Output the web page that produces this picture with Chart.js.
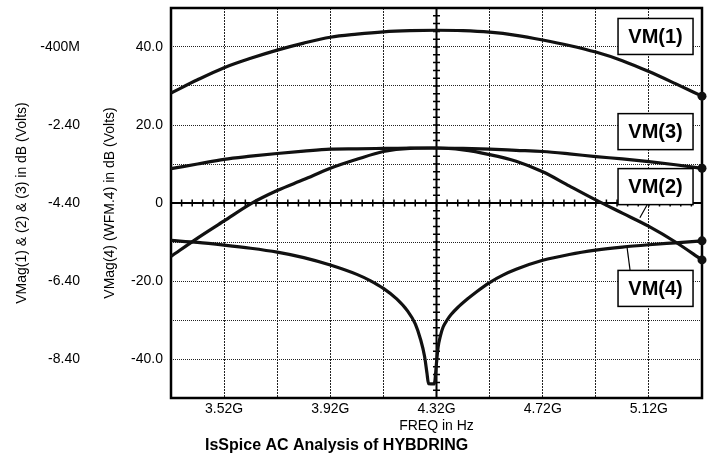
<!DOCTYPE html>
<html>
<head>
<meta charset="utf-8">
<script src="https://cdn.jsdelivr.net/npm/chart.js@4"></script>
<style>
    body { margin: 0; background: #fff; }
    #wrap { width: 707px; height: 459px; }
</style>
</head>
<body>
<div id="wrap"><canvas id="hybChart" width="707" height="459"></canvas></div>
<script>
// frequency points in GHz for VM(1), VM(2), VM(3)
const freqGHz = [3.32, 3.42, 3.52, 3.62, 3.72, 3.82, 3.92, 4.02, 4.12, 4.22, 4.32,
                 4.42, 4.52, 4.62, 4.72, 4.82, 4.92, 5.02, 5.12, 5.22, 5.32];
// magnitudes in dB, read on the outer left scale
const vm1 = [-1.58, -1.24, -0.93, -0.69, -0.48, -0.30, -0.15, -0.07, -0.01, 0.02, 0.03,
             0.02, -0.02, -0.10, -0.22, -0.36, -0.53, -0.75, -1.03, -1.34, -1.66];
const vm2 = [-5.77, -5.30, -4.86, -4.42, -4.08, -3.80, -3.51, -3.28, -3.08, -3.00, -2.99,
             -3.04, -3.16, -3.33, -3.60, -3.96, -4.32, -4.66, -5.00, -5.40, -5.86];
const vm3 = [-3.52, -3.40, -3.28, -3.20, -3.13, -3.07, -3.02, -3.01, -3.00, -2.99, -2.99,
             -3.00, -3.02, -3.05, -3.08, -3.14, -3.21, -3.27, -3.34, -3.42, -3.51];

// VM(4) has its own, denser points around the null (inner scale)
const freq4GHz = [3.32, 3.42, 3.52, 3.62, 3.72, 3.82, 3.92, 4.02, 4.07, 4.12, 4.17, 4.21,
                  4.24, 4.26, 4.275, 4.284, 4.29, 4.312, 4.315, 4.32, 4.326, 4.335, 4.345,
                  4.36, 4.375, 4.40, 4.435, 4.47, 4.52, 4.57, 4.62, 4.72, 4.82, 4.92,
                  5.02, 5.12, 5.22, 5.32];
const vm4 = [-9.6, -10.1, -10.8, -11.6, -12.6, -14.0, -15.9, -18.3, -19.9, -21.9, -24.6, -27.6,
             -31.0, -35.0, -39.3, -43.6, -46.3, -46.4, -45.0, -41.0, -37.0, -34.0, -31.8,
             -30.0, -28.6, -26.8, -24.7, -22.8, -20.4, -18.5, -17.0, -14.7, -13.2, -12.1,
             -11.3, -10.7, -10.2, -9.7];

const freqLabels = [3.52, 3.92, 4.32, 4.72, 5.12];
const dbLabels = [-40, -20, 0, 20, 40];
const voltLabels = [-8.4, -6.4, -4.4, -2.4, -0.4];

const FONT = 'Liberation Sans, Arial, Helvetica, sans-serif';
Chart.defaults.font.family = FONT;
Chart.defaults.color = '#000';

function pts(xs, ys) {
    return xs.map((x, i) => ({ x: x, y: ys[i] }));
}

// only the last point of each trace gets a dot
function endDot(ctx) {
    return ctx.dataIndex === ctx.dataset.data.length - 1 ? 4.5 : 0;
}

function trace(name, xs, ys, axis) {
    return {
        label: name,
        data: pts(xs, ys),
        yAxisID: axis,
        borderColor: '#111',
        borderWidth: 3.2,
        pointRadius: endDot,
        pointBackgroundColor: '#111',
        pointBorderWidth: 0,
        cubicInterpolationMode: 'monotone',
        fill: false,
        clip: 8
    };
}

// trace tags: position in data units (x in GHz, y on inner dB scale)
const tags = [
    { text: 'VM(1)', x: 5.145, y: 42.7 },
    { text: 'VM(3)', x: 5.145, y: 18.3 },
    { text: 'VM(2)', x: 5.145, y: 4.2, lead: [5.113, -0.5, 5.086, -3.8] },
    { text: 'VM(4)', x: 5.145, y: -21.9, lead: [5.049, -17.2, 5.038, -11.5] }
];

const extras = {
    id: 'extras',
    beforeDatasetsDraw(chart) {
        const { ctx, chartArea: a, scales } = chart;
        const xs = scales.x, ys = scales.y;
        ctx.save();
        ctx.strokeStyle = '#000';
        // center cross with small ticks
        const x0 = xs.getPixelForValue(4.32);
        const y0 = ys.getPixelForValue(0);
        ctx.lineWidth = 2;
        ctx.beginPath();
        ctx.moveTo(a.left, y0); ctx.lineTo(a.right, y0);
        ctx.moveTo(x0, a.top); ctx.lineTo(x0, a.bottom);
        ctx.stroke();
        ctx.lineWidth = 1.5;
        ctx.beginPath();
        for (let i = 0; i <= 50; i++) {
            const px = xs.getPixelForValue(3.32 + i * 0.04);
            ctx.moveTo(px, y0 - 3.5); ctx.lineTo(px, y0 + 3.5);
        }
        for (let i = 0; i <= 50; i++) {
            const py = ys.getPixelForValue(-50 + i * 2);
            ctx.moveTo(x0 - 3.5, py); ctx.lineTo(x0 + 3.5, py);
        }
        ctx.stroke();
        // plot frame
        ctx.lineWidth = 2.5;
        ctx.strokeRect(a.left, a.top, a.right - a.left, a.bottom - a.top);
        ctx.restore();
    },
    afterDatasetsDraw(chart) {
        const { ctx, scales } = chart;
        const xs = scales.x, ys = scales.y;
        ctx.save();
        ctx.strokeStyle = '#000';
        tags.forEach(t => {
            if (t.lead) {
                ctx.lineWidth = 1.2;
                ctx.beginPath();
                ctx.moveTo(xs.getPixelForValue(t.lead[0]), ys.getPixelForValue(t.lead[1]));
                ctx.lineTo(xs.getPixelForValue(t.lead[2]), ys.getPixelForValue(t.lead[3]));
                ctx.stroke();
            }
            const cx = xs.getPixelForValue(t.x), cy = ys.getPixelForValue(t.y);
            const w = 75, h = 36;
            ctx.fillStyle = '#fff';
            ctx.fillRect(cx - w / 2, cy - h / 2, w, h);
            ctx.lineWidth = 1.5;
            ctx.strokeRect(cx - w / 2, cy - h / 2, w, h);
            ctx.fillStyle = '#000';
            ctx.font = 'bold 20px ' + FONT;
            ctx.textAlign = 'center';
            ctx.textBaseline = 'middle';
            ctx.fillText(t.text, cx, cy + 1);
        });
        ctx.restore();
    },
    afterDraw(chart) {
        const { ctx, chartArea: a } = chart;
        ctx.save();
        ctx.fillStyle = '#000';
        ctx.font = 'bold 16px ' + FONT;
        ctx.textAlign = 'left';
        ctx.textBaseline = 'middle';
        ctx.fillText('IsSpice AC Analysis of HYBDRING', a.left + 34, 446);
        ctx.restore();
    }
};

const chart = new Chart(document.getElementById('hybChart').getContext('2d'), {
    type: 'line',
    data: {
        datasets: [
            trace('VM(1)', freqGHz, vm1, 'y2'),
            trace('VM(2)', freqGHz, vm2, 'y2'),
            trace('VM(3)', freqGHz, vm3, 'y2'),
            trace('VM(4)', freq4GHz, vm4, 'y')
        ]
    },
    options: {
        responsive: false,
        animation: false,
        layout: { padding: { top: 8, right: 5, left: 0, bottom: 0 } },
        plugins: {
            legend: { display: false },
            tooltip: { enabled: false }
        },
        scales: {
            x: {
                type: 'linear',
                min: 3.32,
                max: 5.32,
                afterBuildTicks: s => {
                    s.ticks = [];
                    for (let i = 0; i <= 10; i++) s.ticks.push({ value: 3.32 + i * 0.2 });
                },
                ticks: {
                    font: { size: 14 },
                    padding: 3,
                    maxRotation: 0,
                    autoSkip: false,
                    callback: v => freqLabels.some(f => Math.abs(f - v) < 1e-6) ? v.toFixed(2) + 'G' : ''
                },
                grid: { color: '#222', lineWidth: 1, drawTicks: false },
                border: { display: false, dash: [2, 1] },
                title: { display: true, text: 'FREQ in Hz', font: { size: 14 }, padding: { top: 0, bottom: 24 } },
                afterFit: s => { s.height = 61; s.paddingLeft = 0; s.paddingRight = 0; }
            },
            y: {
                type: 'linear',
                position: 'left',
                min: -50,
                max: 50,
                ticks: {
                    stepSize: 10,
                    font: { size: 14 },
                    padding: 8,
                    callback: v => {
                        const r = Math.round(v);
                        if (!dbLabels.includes(r)) return '';
                        return r === 0 ? '0' : r.toFixed(1);
                    }
                },
                grid: { color: '#222', lineWidth: 1, drawTicks: false },
                border: { display: false, dash: [1, 1] },
                title: { display: true, text: 'VMag(4) (WFM.4) in dB (Volts)', font: { size: 14 }, padding: { top: 7, bottom: 0 } },
                afterFit: s => { s.width = 76; s.paddingTop = 0; s.paddingBottom = 0; }
            },
            y2: {
                type: 'linear',
                position: 'left',
                min: -9.4,
                max: 0.6,
                afterBuildTicks: s => { s.ticks = voltLabels.map(v => ({ value: v })); },
                ticks: {
                    font: { size: 14 },
                    padding: 15,
                    callback: v => Math.abs(v + 0.4) < 1e-6 ? '-400M' : v.toFixed(2)
                },
                grid: { display: false, drawTicks: false },
                border: { display: false },
                title: { display: true, text: 'VMag(1) & (2) & (3) in dB (Volts)', font: { size: 14 }, padding: { top: 14, bottom: 0 } },
                afterFit: s => { s.width = 95; s.paddingTop = 0; s.paddingBottom = 0; }
            }
        }
    },
    plugins: [extras]
});
</script>
</body>
</html>
